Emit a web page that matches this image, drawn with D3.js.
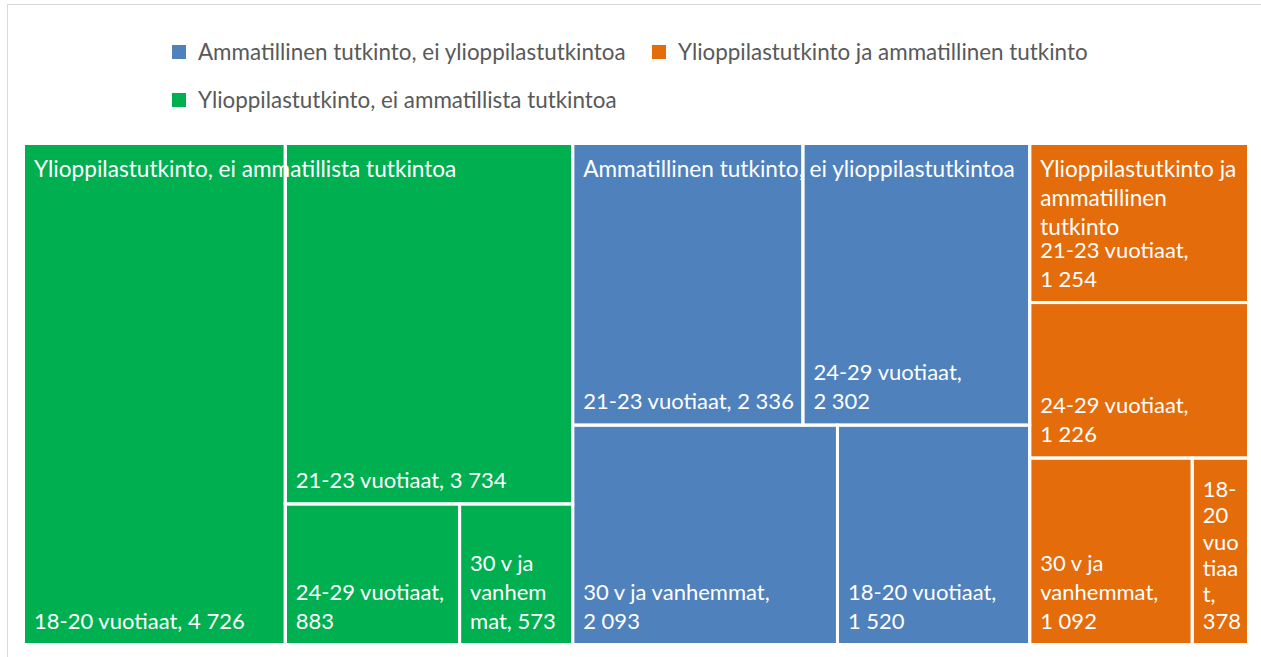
<!DOCTYPE html>
<html>
<head>
<meta charset="utf-8">
<title>Tutkinnot ikäryhmittäin</title>
<script src="https://cdn.jsdelivr.net/npm/d3@7"></script>
<style>
body { margin: 0; background: #fff; }
text { font-family: Lato, "Open Sans", sans-serif; }
</style>
</head>
<body>
<script>
var width = 1261, height = 657;

// ryhmät (legendan järjestyksessä) ja värit
var groups = ["Ammatillinen tutkinto, ei ylioppilastutkintoa",
              "Ylioppilastutkinto ja ammatillinen tutkinto",
              "Ylioppilastutkinto, ei ammatillista tutkintoa"];
var groupColors = ["#4F81BD", "#E46C0A", "#00B050"];
var ages = ["18-20 vuotiaat", "21-23 vuotiaat", "24-29 vuotiaat", "30 v ja vanhemmat"];
// arvot ikäryhmittäin
var ammatillinen = [1520, 2336, 2302, 2093];
var molemmat = [378, 1254, 1226, 1092];
var ylioppilas = [4726, 3734, 883, 573];
var values = [ammatillinen, molemmat, ylioppilas];

var fi = d3.formatLocale({decimal: ",", thousands: "\u00a0", grouping: [3], currency: ["", " €"]});
var fmt = fi.format(",d");

var svg = d3.select("body").append("svg").attr("width", width).attr("height", height);

// kehys
svg.append("rect").attr("x", 7.5).attr("y", 4.5).attr("width", 1300).attr("height", 700)
    .attr("fill", "none").attr("stroke", "#d9d9d9");

// legenda
var leg = svg.append("g").attr("transform", "translate(172,45)");
var li = leg.selectAll("g").data(groups).enter().append("g")
    .attr("transform", function(d, i){ return "translate(" + (i % 2) * 480 + "," + Math.floor(i / 2) * 48 + ")"; });
li.append("rect").attr("width", 14).attr("height", 14).attr("fill", function(d, i){ return groupColors[i]; });
li.append("text").attr("x", 26).attr("y", 7).attr("dy", "0.35em")
    .attr("font-size", 22.4).attr("fill", "#595959").text(function(d){ return d; });

// puukartta
var rootData = {name: "root", children: groups.map(function(g, i){
    return {name: g, color: groupColors[i], children: ages.map(function(a, j){
        return {name: a, value: values[i][j]};
    })};
})};
var root = d3.hierarchy(rootData).sum(function(d){ return d.value || 0; })
    .sort(function(a, b){ return b.value - a.value; });
d3.treemap().tile(d3.treemapSquarify.ratio(1)).size([1225, 501])(root);

var tm = svg.append("g").attr("transform", "translate(23.5,143.5)");
var leaves = root.leaves();

tm.selectAll("rect.cell").data(leaves).enter().append("rect").attr("class", "cell")
    .attr("x", function(d){ return d.x0; }).attr("y", function(d){ return d.y0; })
    .attr("width", function(d){ return d.x1 - d.x0; }).attr("height", function(d){ return d.y1 - d.y0; })
    .attr("fill", function(d){ return d.parent.data.color; });

// tekstin mittaus rivitystä varten
var meas = svg.append("text").attr("visibility", "hidden");
function measure(s, fs){ meas.attr("font-size", fs).text(s); return meas.node().getComputedTextLength(); }

// rivitys sanoittain, liian pitkät sanat katkaistaan merkeittäin (ei lukuja)
function wrapLines(str, maxW, fs){
    var words = str.split(" "), lines = [], line = "";
    words.forEach(function(w){
        var test = line ? line + " " + w : w;
        if (measure(test, fs) <= maxW) { line = test; return; }
        if (line) { lines.push(line); line = ""; }
        while (measure(w, fs) > maxW && w.length > 1 && !/^[\d\u00a0]+$/.test(w)) {
            var k = 1;
            while (k < w.length && measure(w.slice(0, k + 1), fs) <= maxW) k++;
            lines.push(w.slice(0, k)); w = w.slice(k);
        }
        line = w;
    });
    if (line) lines.push(line);
    return lines;
}

var lh = 29, pad = 19.1;
// lehtien tekstit alareunaan
leaves.forEach(function(d){
    var lines = wrapLines(d.data.name + ", " + fmt(d.value), d.x1 - d.x0 - pad, 22);
    var h = d.y1 - d.y0;
    var step = lines.length > 1 ? Math.min(lh, (h - 55) / (lines.length - 1)) : lh;
    var t = tm.append("text").attr("font-size", 22).attr("fill", "#fff");
    var yb = d.y1 - 16 - (lines.length - 1) * step;
    lines.forEach(function(l, k){
        t.append("tspan").attr("x", d.x0 + 10.5).attr("y", yb + k * step).text(l);
    });
});

// ryhmien otsikot yläreunaan
root.children.forEach(function(g){
    var lines = wrapLines(g.data.name, g.x1 - g.x0 - pad, 22.6);
    var t = tm.append("text").attr("font-size", 22.6).attr("fill", "#fff");
    lines.forEach(function(l, k){
        t.append("tspan").attr("x", g.x0 + 10.5).attr("y", g.y0 + 33 + k * lh).text(l);
    });
});

// valkoiset rajat päällimmäisiksi
tm.selectAll("rect.edge").data(leaves).enter().append("rect").attr("class", "edge")
    .attr("x", function(d){ return d.x0; }).attr("y", function(d){ return d.y0; })
    .attr("width", function(d){ return d.x1 - d.x0; }).attr("height", function(d){ return d.y1 - d.y0; })
    .attr("fill", "none").attr("stroke", "#fff").attr("stroke-width", 3);
</script>
</body>
</html>
